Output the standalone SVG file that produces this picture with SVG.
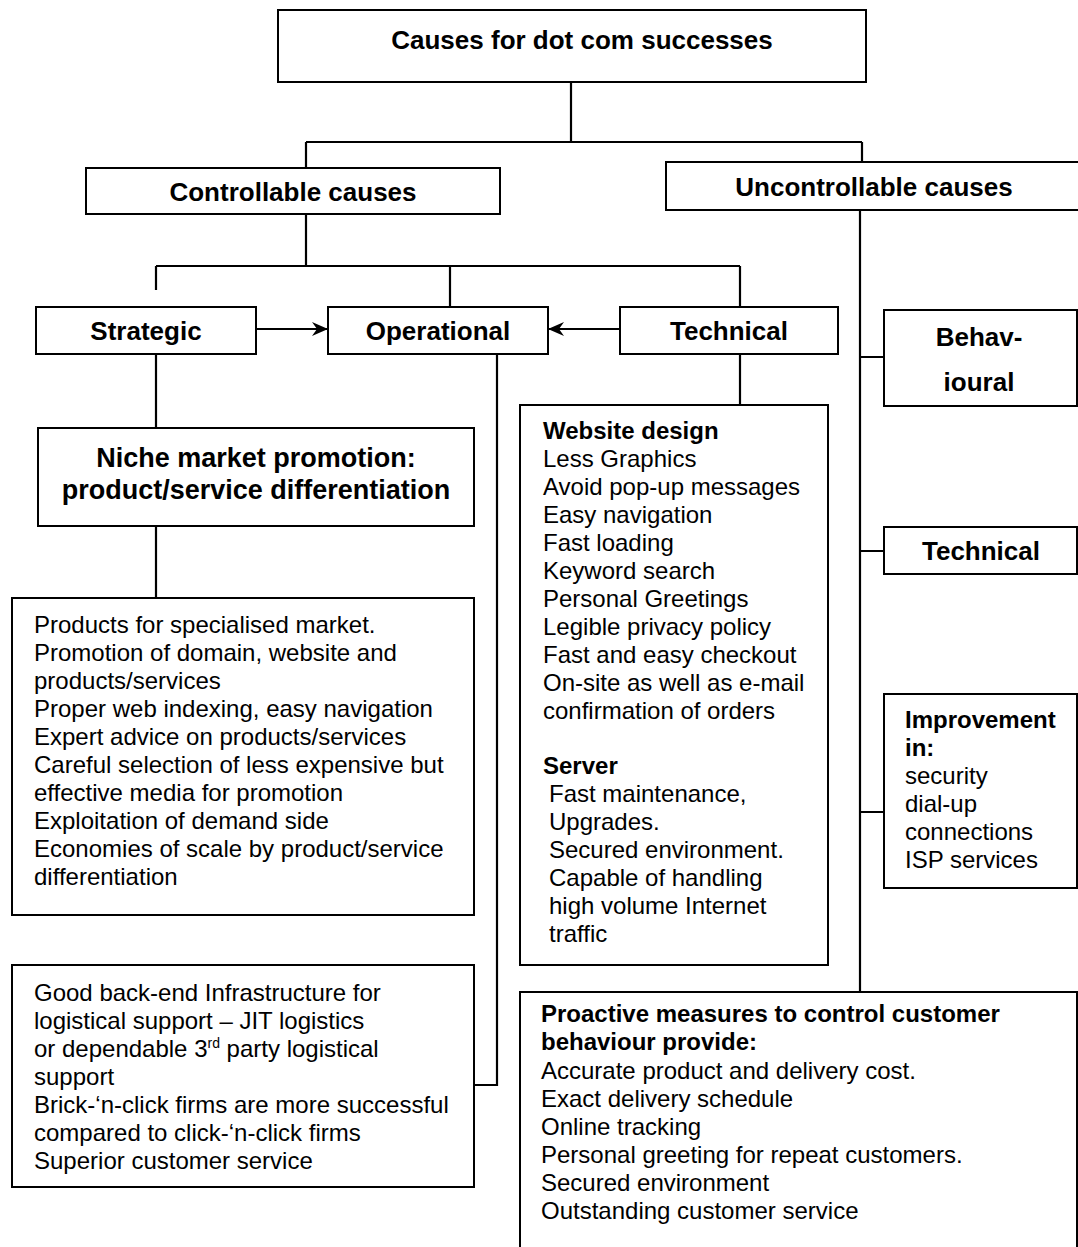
<svg xmlns="http://www.w3.org/2000/svg" width="1078" height="1247" viewBox="0 0 1078 1247">
<style>
.box{fill:#fff;stroke:#000;stroke-width:2}
.ln{fill:none;stroke:#000;stroke-width:2.2}
text{font-family:"Liberation Sans",Arial,sans-serif;fill:#000}
.h{font-size:26px;font-weight:bold;text-anchor:middle}
.b{font-size:24px}
.bb{font-size:24px;font-weight:bold}
</style>
<defs>
<marker id="arr" viewBox="0 0 16 14" refX="15" refY="7" markerWidth="16" markerHeight="14" markerUnits="userSpaceOnUse" orient="auto">
<path d="M0,0 L16,7 L0,14 L5,7 z" fill="#000"/>
</marker>
</defs>
<rect width="1078" height="1247" fill="#fff"/>
<g id="connectors">
<path class="ln" d="M571,82 V142 M306,142 H862 M306,142 V168 M862,142 V162"/>
<path class="ln" d="M306,214 V266 M156,266 H740 M156,266 V290 M450,266 V307 M740,266 V307"/>
<path class="ln" d="M256,329 H327" marker-end="url(#arr)"/>
<path class="ln" d="M620,329 H549" marker-end="url(#arr)"/>
<path class="ln" d="M156,354 V428 M156,526 V598"/>
<path class="ln" d="M497,354 V1085 H474"/>
<path class="ln" d="M740,354 V405"/>
<path class="ln" d="M860,210 V992 M860,357 H884 M860,551 H884 M860,812 H884"/>
</g>
<g id="root"><rect class="box" x="278" y="10" width="588" height="72"/><text class="h" x="582" y="49">Causes for dot com successes</text></g>
<g id="controllable"><rect class="box" x="86" y="168" width="414" height="46"/><text class="h" x="293" y="201">Controllable causes</text></g>
<g id="uncontrollable"><rect class="box" x="666" y="162" width="420" height="48"/><text class="h" x="874" y="196">Uncontrollable causes</text></g>
<g id="strategic"><rect class="box" x="36" y="307" width="220" height="47"/><text class="h" x="146" y="340">Strategic</text></g>
<g id="operational"><rect class="box" x="328" y="307" width="220" height="47"/><text class="h" x="438" y="340">Operational</text></g>
<g id="technical"><rect class="box" x="620" y="307" width="218" height="47"/><text class="h" x="729" y="340">Technical</text></g>
<g id="niche"><rect class="box" x="38" y="428" width="436" height="98"/>
<text class="h" x="256" y="467" style="font-size:27px">Niche market promotion:</text>
<text class="h" x="256" y="499" style="font-size:27px">product/service differentiation</text></g>
<g id="strategic-list"><rect class="box" x="12" y="598" width="462" height="317"/>
<text class="b" x="34" y="633">Products for specialised market.</text>
<text class="b" x="34" y="661">Promotion of domain, website and</text>
<text class="b" x="34" y="689">products/services</text>
<text class="b" x="34" y="717">Proper web indexing, easy navigation</text>
<text class="b" x="34" y="745">Expert advice on products/services</text>
<text class="b" x="34" y="773">Careful selection of less expensive but</text>
<text class="b" x="34" y="801">effective media for promotion</text>
<text class="b" x="34" y="829">Exploitation of demand side</text>
<text class="b" x="34" y="857">Economies of scale by product/service</text>
<text class="b" x="34" y="885">differentiation</text></g>
<g id="operational-list"><rect class="box" x="12" y="965" width="462" height="222"/>
<text class="b" x="34" y="1001">Good back-end Infrastructure for</text>
<text class="b" x="34" y="1029">logistical support – JIT logistics</text>
<text class="b" x="34" y="1057">or dependable 3<tspan dy="-9" style="font-size:14px">rd</tspan><tspan dy="9"> party logistical</tspan></text>
<text class="b" x="34" y="1085">support</text>
<text class="b" x="34" y="1113">Brick-‘n-click firms are more successful</text>
<text class="b" x="34" y="1141">compared to click-‘n-click firms</text>
<text class="b" x="34" y="1169">Superior customer service</text></g>
<g id="technical-list"><rect class="box" x="520" y="405" width="308" height="560"/>
<text class="bb" x="543" y="439">Website design</text>
<text class="b" x="543" y="467">Less Graphics</text>
<text class="b" x="543" y="495">Avoid pop-up messages</text>
<text class="b" x="543" y="523">Easy navigation</text>
<text class="b" x="543" y="551">Fast loading</text>
<text class="b" x="543" y="579">Keyword search</text>
<text class="b" x="543" y="607">Personal Greetings</text>
<text class="b" x="543" y="635">Legible privacy policy</text>
<text class="b" x="543" y="663">Fast and easy checkout</text>
<text class="b" x="543" y="691">On-site as well as e-mail</text>
<text class="b" x="543" y="719">confirmation of orders</text>
<text class="bb" x="543" y="774">Server</text>
<text class="b" x="549" y="802">Fast maintenance,</text>
<text class="b" x="549" y="830">Upgrades.</text>
<text class="b" x="549" y="858">Secured environment.</text>
<text class="b" x="549" y="886">Capable of handling</text>
<text class="b" x="549" y="914">high volume Internet</text>
<text class="b" x="549" y="942">traffic</text></g>
<g id="behavioural"><rect class="box" x="884" y="310" width="193" height="96"/>
<text class="h" x="979" y="346">Behav-</text><text class="h" x="979" y="391">ioural</text></g>
<g id="technical-u"><rect class="box" x="884" y="527" width="193" height="47"/><text class="h" x="981" y="560">Technical</text></g>
<g id="improvement"><rect class="box" x="884" y="694" width="193" height="194"/>
<text class="bb" x="905" y="728">Improvement</text>
<text class="bb" x="905" y="756">in:</text>
<text class="b" x="905" y="784">security</text>
<text class="b" x="905" y="812">dial-up</text>
<text class="b" x="905" y="840">connections</text>
<text class="b" x="905" y="868">ISP services</text></g>
<g id="proactive"><rect class="box" x="520" y="992" width="557" height="270"/>
<text class="bb" x="541" y="1022">Proactive measures to control customer</text>
<text class="bb" x="541" y="1050">behaviour provide:</text>
<text class="b" x="541" y="1079">Accurate product and delivery cost.</text>
<text class="b" x="541" y="1107">Exact delivery schedule</text>
<text class="b" x="541" y="1135">Online tracking</text>
<text class="b" x="541" y="1163">Personal greeting for repeat customers.</text>
<text class="b" x="541" y="1191">Secured environment</text>
<text class="b" x="541" y="1219">Outstanding customer service</text></g>
</svg>
